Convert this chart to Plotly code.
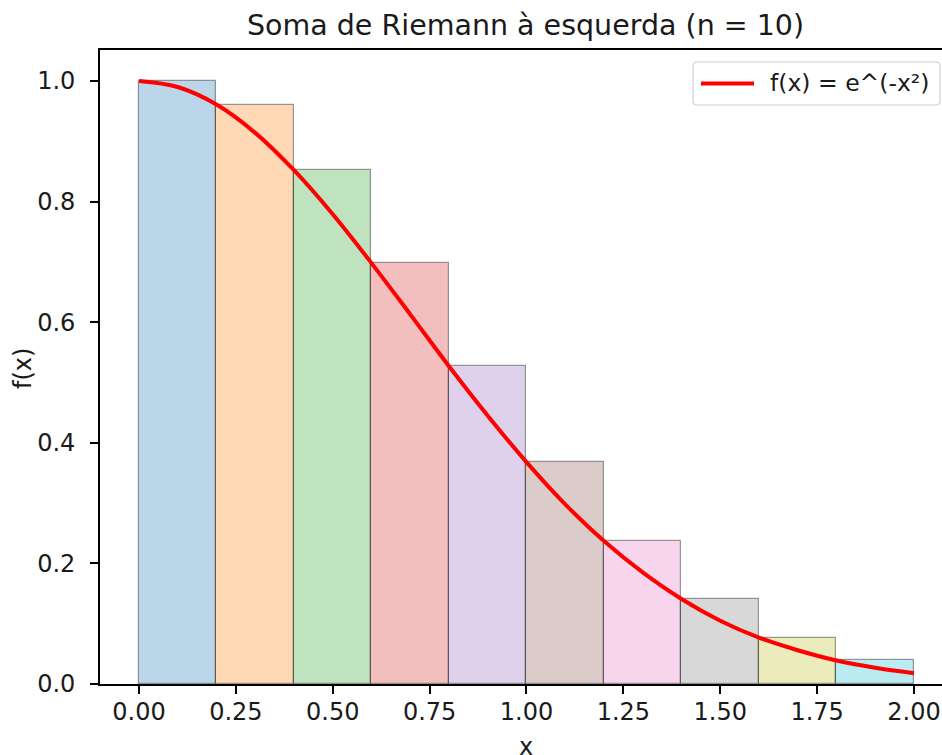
import plotly.graph_objects as go

# Data
left_edges = [0.0, 0.2, 0.4, 0.6, 0.8, 1.0, 1.2, 1.4, 1.6, 1.8]
bar_heights = [1.000, 0.961, 0.852, 0.698, 0.527, 0.368, 0.237, 0.141, 0.077, 0.039]
bar_width = 0.2
curve_x = [0.0, 0.1, 0.2, 0.3, 0.4, 0.5, 0.6, 0.7, 0.8, 0.9, 1.0,
           1.1, 1.2, 1.3, 1.4, 1.5, 1.6, 1.7, 1.8, 1.9, 2.0]
curve_y = [1.000, 0.990, 0.961, 0.914, 0.852, 0.779, 0.698, 0.613, 0.527, 0.445, 0.368,
           0.298, 0.237, 0.185, 0.141, 0.105, 0.077, 0.056, 0.039, 0.027, 0.018]
bar_colors = ["rgba(31,119,180,0.3)", "rgba(255,127,14,0.3)", "rgba(44,160,44,0.3)",
              "rgba(214,39,40,0.3)", "rgba(148,103,189,0.3)", "rgba(140,86,75,0.3)",
              "rgba(227,119,194,0.3)", "rgba(127,127,127,0.3)", "rgba(188,189,34,0.3)",
              "rgba(23,190,207,0.3)"]
x_ticks = [0.0, 0.25, 0.5, 0.75, 1.0, 1.25, 1.5, 1.75, 2.0]
y_ticks = [0.0, 0.2, 0.4, 0.6, 0.8, 1.0]
title_text = "Soma de Riemann à esquerda (n = 10)"
curve_label = "f(x) = e^(-x²)"

FONT = "DejaVu Sans"
TXT = "#1a1a1a"
W, H = 942, 755
L, R, T, B = 100, 0, 50, 755 - 684
pw = W - L - R
ph = H - T - B


def px(xp):
    return (xp - L) / pw


def py(yp):
    return (H - B - yp) / ph


fig = go.Figure()
fig.add_trace(go.Bar(
    x=left_edges, y=bar_heights, width=[bar_width] * len(left_edges), offset=0,
    marker=dict(color=bar_colors, line=dict(color="rgba(0,0,0,0.38)", width=1.2)),
    showlegend=False, hoverinfo="skip",
))
fig.add_trace(go.Scatter(
    x=curve_x, y=curve_y, mode="lines", name=curve_label,
    line=dict(color="red", width=4, shape="spline"),
    showlegend=False,
))

# legend box (rounded rectangle) drawn in paper coordinates
x0, x1, y0, y1, r = 693, 940, 62, 105, 4
pts = [
    f"M {px(x0 + r)},{py(y0)}",
    f"L {px(x1 - r)},{py(y0)}",
    f"Q {px(x1)},{py(y0)} {px(x1)},{py(y0 + r)}",
    f"L {px(x1)},{py(y1 - r)}",
    f"Q {px(x1)},{py(y1)} {px(x1 - r)},{py(y1)}",
    f"L {px(x0 + r)},{py(y1)}",
    f"Q {px(x0)},{py(y1)} {px(x0)},{py(y1 - r)}",
    f"L {px(x0)},{py(y0 + r)}",
    f"Q {px(x0)},{py(y0)} {px(x0 + r)},{py(y0)}",
    "Z",
]
legend_box = dict(type="path", xref="paper", yref="paper", path=" ".join(pts),
                  fillcolor="rgba(255,255,255,0.8)", line=dict(color="#d0d0d0", width=1.2),
                  layer="above")
legend_line = dict(type="line", xref="paper", yref="paper",
                   x0=px(701), x1=px(754), y0=py(83.5), y1=py(83.5),
                   line=dict(color="red", width=4), layer="above")

fig.update_layout(
    width=W, height=H,
    margin=dict(l=L, r=R, t=T, b=B),
    paper_bgcolor="white", plot_bgcolor="white",
    font=dict(family=FONT, size=24, color=TXT),
    title=dict(text=title_text, x=525.5 / W, xanchor="center",
               y=1 - 25 / H, yanchor="middle", yref="container",
               font=dict(size=28.5, family=FONT, color=TXT)),
    bargap=0,
    showlegend=False,
    xaxis=dict(range=[-0.1006, 2.0723], tickvals=x_ticks, tickformat=".2f",
               showline=True, linecolor="black", linewidth=1.8, mirror=True,
               ticks="outside", ticklen=8, tickwidth=1.8, tickcolor="black",
               ticklabelstandoff=-3,
               showgrid=False, zeroline=False, tickfont=dict(size=24, color=TXT)),
    yaxis=dict(range=[0, 1.0514], tickvals=y_ticks, tickformat=".1f",
               showline=True, linecolor="black", linewidth=1.8,
               ticks="outside", ticklen=8, tickwidth=1.8, tickcolor="black",
               ticklabelstandoff=10,
               showgrid=False, zeroline=False, tickfont=dict(size=24, color=TXT)),
    shapes=[legend_box, legend_line],
    annotations=[
        dict(text=curve_label, xref="paper", yref="paper", x=px(768), y=py(83),
             xanchor="left", yanchor="middle", showarrow=False,
             font=dict(size=23.5, color=TXT)),
        dict(text="x", xref="paper", yref="paper", x=px(526), y=py(746.5),
             xanchor="center", yanchor="middle", showarrow=False,
             font=dict(size=24, color=TXT)),
        dict(text="f(x)", xref="paper", yref="paper", x=px(23), y=py(369),
             xanchor="center", yanchor="middle", showarrow=False, textangle=-90,
             font=dict(size=24, color=TXT)),
    ],
)

fig.write_html(
    "out.html",
    config={"displayModeBar": False},
    post_script="document.body.style.margin='0';document.body.style.overflow='hidden';",
)
